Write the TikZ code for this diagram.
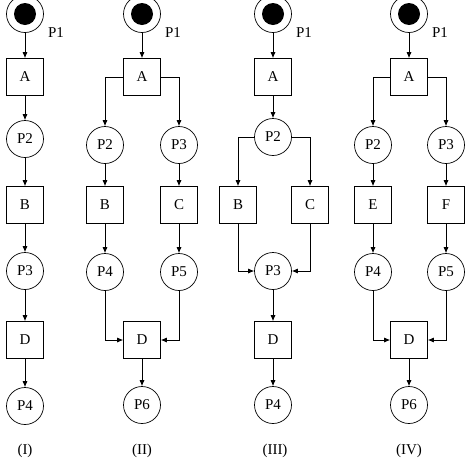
\documentclass[tikz,border=0pt]{standalone}
\usepackage{fontspec}
\setmainfont{Liberation Serif}
\usetikzlibrary{arrows.meta}

\begin{document}
\begin{tikzpicture}[x=1pt,y=-1pt,
every node/.style={%
    inner sep =1pt, font=\fontsize{15}{17}\selectfont
    },
place/.style={draw, circle, line width=0.7pt, minimum size=37pt},
trans/.style={draw, line width=0.7pt, minimum size=37pt},
start/.style={place, label={[xshift=3pt,yshift=-19pt]right:P1}},
arc/.style={-{Latex[length=6pt,width=5pt]}, line width=0.7pt}
]
\useasboundingbox (0,0) rectangle (468,464);

% (I)
\node[start] (i-P1) at (25,14) {};
\node[trans] (i-A) at (25,77) {A};
\node[place] (i-P2) at (25,139) {P2};
\node[trans] (i-B) at (25,205) {B};
\node[place] (i-P3) at (25,271) {P3};
\node[trans] (i-D) at (25,340) {D};
\node[place] (i-P4) at (25,406) {P4};
\node (i-name) at (25,451) {(I)};

% (II)
\node[start] (ii-P1) at (142,14) {};
\node[trans] (ii-A) at (142,77) {A};
\node[place] (ii-P2) at (105,145) {P2};
\node[place] (ii-P3) at (179,145) {P3};
\node[trans] (ii-B) at (105,205) {B};
\node[trans] (ii-C) at (179,205) {C};
\node[place] (ii-P4) at (105,272) {P4};
\node[place] (ii-P5) at (179,272) {P5};
\node[trans] (ii-D) at (142,340) {D};
\node[place] (ii-P6) at (142,405) {P6};
\node (ii-name) at (142,451) {(II)};

% (III)
\node[start] (iii-P1) at (273,14) {};
\node[trans] (iii-A) at (273,77) {A};
\node[place] (iii-P2) at (273,137) {P2};
\node[trans] (iii-B) at (238,205) {B};
\node[trans] (iii-C) at (310,205) {C};
\node[place] (iii-P3) at (273,271) {P3};
\node[trans] (iii-D) at (273,340) {D};
\node[place] (iii-P4) at (273,405) {P4};
\node (iii-name) at (275,451) {(III)};

% (IV)
\node[start] (iv-P1) at (409,14) {};
\node[trans] (iv-A) at (409,77) {A};
\node[place] (iv-P2) at (373,145) {P2};
\node[place] (iv-P3) at (446,145) {P3};
\node[trans] (iv-E) at (373,205) {E};
\node[trans] (iv-F) at (446,205) {F};
\node[place] (iv-P4) at (373,272) {P4};
\node[place] (iv-P5) at (446,272) {P5};
\node[trans] (iv-D) at (409,340) {D};
\node[place] (iv-P6) at (409,405) {P6};
\node (iv-name) at (409,451) {(IV)};

% tokens
\foreach \n in {i,ii,iii,iv}
    \fill (\n-P1) circle (11pt);

% straight arcs
\foreach \i/\j in {
                  i-P1/i-A, i-A/i-P2, i-P2/i-B, i-B/i-P3,%
                  i-P3/i-D, i-D/i-P4,%
                  ii-P1/ii-A, ii-P2/ii-B, ii-P3/ii-C,%
                  ii-B/ii-P4, ii-C/ii-P5, ii-D/ii-P6,%
                  iii-P1/iii-A, iii-A/iii-P2, iii-P3/iii-D, iii-D/iii-P4,%
                  iv-P1/iv-A, iv-P2/iv-E, iv-P3/iv-F,%
                  iv-E/iv-P4, iv-F/iv-P5, iv-D/iv-P6%
            }
    \draw [arc] (\i) -- (\j);

% split and join arcs
\foreach \i/\j in {ii-A/ii-P2, ii-A/ii-P3, iii-P2/iii-B, iii-P2/iii-C,%
                   iv-A/iv-P2, iv-A/iv-P3}
    \draw [arc] (\i) -| (\j);
\foreach \i/\j in {ii-P4/ii-D, ii-P5/ii-D, iii-B/iii-P3, iii-C/iii-P3,%
                   iv-P4/iv-D, iv-P5/iv-D}
    \draw [arc] (\i) |- (\j);

\end{tikzpicture}
\end{document}
